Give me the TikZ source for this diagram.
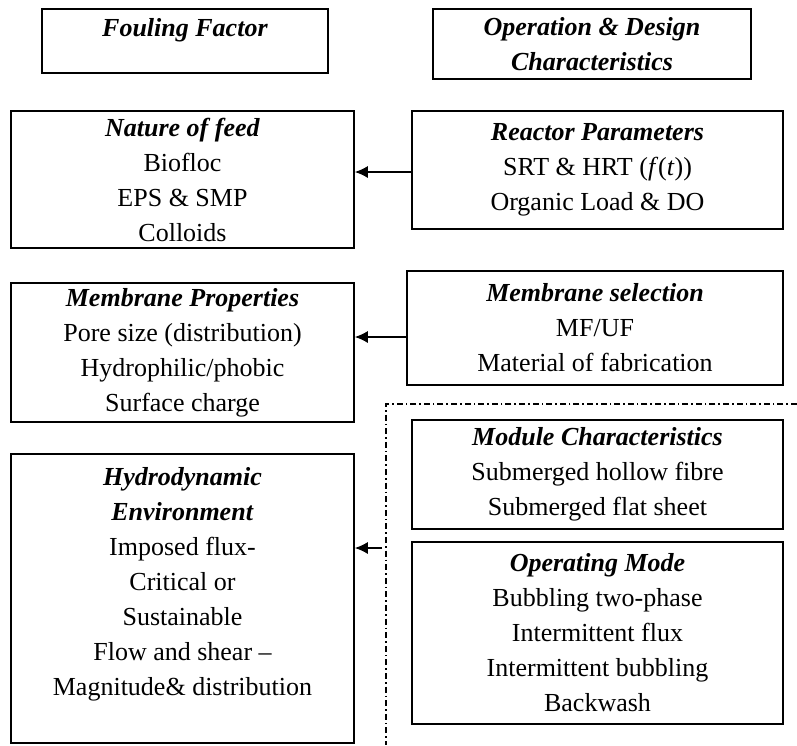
\documentclass[tikz,border=0pt]{standalone}
\usepackage{fontspec}
\setmainfont{Liberation Serif}
\usetikzlibrary{arrows.meta}
\begin{document}
\begin{tikzpicture}[x=1pt,y=-1pt,
  box/.style={draw,line width=1.5pt,align=center,inner sep=0pt,font=\fontsize{26}{35}\selectfont},
  link/.style={line width=1.6pt,-{Latex[length=13pt,width=12pt]}}]
\useasboundingbox (0,0) rectangle (797,745);

% Column headings
\node[box,minimum width=286,minimum height=64] (fouling) at (185,41) {\textbf{\textit{Fouling Factor}}\\[-8pt] ~};
\node[box,minimum width=318,minimum height=70] (opdesign) at (592,44) {\textbf{\textit{Operation \& Design}}\\ \textbf{\textit{Characteristics}}};

% Fouling factors (left)
\node[box,minimum width=343,minimum height=137] (feed) at (182.5,179.5) {\textbf{\textit{Nature of feed}}\\ Biofloc\\ EPS \& SMP\\ Colloids};
\node[box,minimum width=343,minimum height=139] (memprop) at (182.5,352.5) {\textbf{\textit{Membrane Properties}}\\ Pore size (distribution)\\ Hydrophilic/phobic\\ Surface charge};
\node[box,minimum width=343,minimum height=289] (hydro) at (182.5,598.5) {\textbf{\textit{Hydrodynamic}}\\ \textbf{\textit{Environment}}\\ Imposed flux-\\ Critical or\\ Sustainable\\ Flow and shear --\\ Magnitude\& distribution\\ ~};

% Operation and design (right)
\node[box,minimum width=371,minimum height=118] (reactor) at (597.5,170) {\textbf{\textit{Reactor Parameters}}\\ SRT \& HRT (\textit{f}(\textit{t}))\\ Organic Load \& DO};
\node[box,minimum width=376,minimum height=114] (memsel) at (595,328) {\textbf{\textit{Membrane selection}}\\ MF/UF\\ Material of fabrication};
\node[box,minimum width=371,minimum height=109] (module) at (597.5,474.5) {\textbf{\textit{Module Characteristics}}\\ Submerged hollow fibre\\ Submerged flat sheet};
\node[box,minimum width=371,minimum height=182] (opmode) at (597.5,633) {\textbf{\textit{Operating Mode}}\\ Bubbling two-phase\\ Intermittent flux\\ Intermittent bubbling\\ Backwash};

% Dash-dot group round module and mode
\draw[line width=1.6pt,dash pattern=on 6pt off 3pt on 1.6pt off 3pt] (797,404) -- (386,404) -- (386,745);
\coordinate (grp) at (382,548);

% Links
\draw[link] ([yshift=-2pt]reactor.west) -- ([yshift=-2pt]reactor.west -| feed.east);
\draw[link] ([yshift=-9pt]memsel.west) -- ([yshift=-9pt]memsel.west -| memprop.east);
\draw[link] (grp) -- (grp -| hydro.east);

\end{tikzpicture}
\end{document}
